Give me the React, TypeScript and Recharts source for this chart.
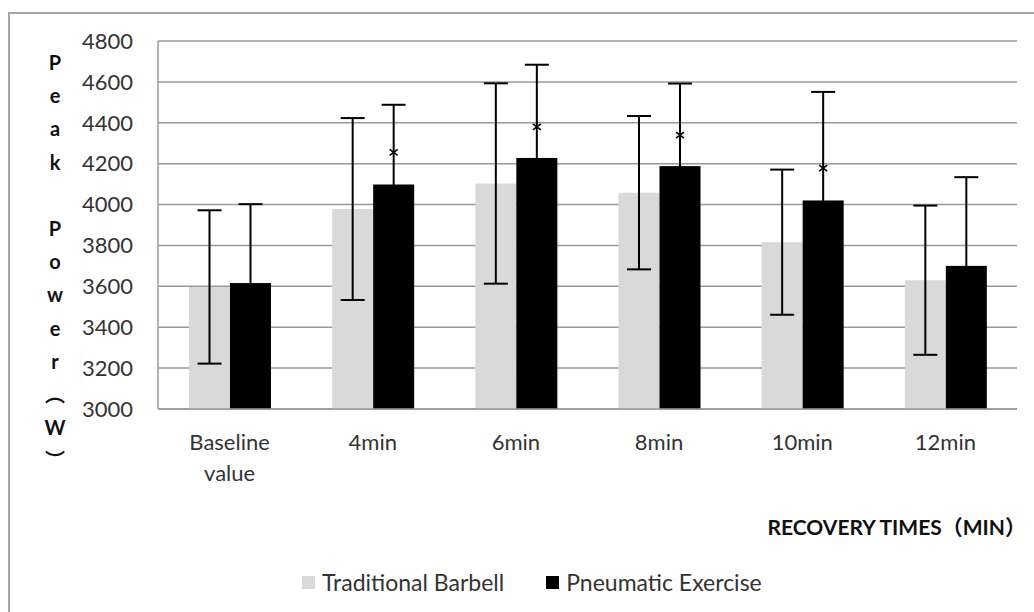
import React from 'react';
import { BarChart, Bar, XAxis, YAxis, CartesianGrid, ErrorBar, Legend } from 'recharts';

const categories = ['Baseline value', '4min', '6min', '8min', '10min', '12min'];
const seriesNames = ['Traditional Barbell', 'Pneumatic Exercise'];
const traditional = [3597, 3978, 4103, 4058, 3816, 3630];
const traditionalSd = [375, 445, 490, 375, 355, 365];
const pneumatic = [3616, 4098, 4228, 4188, 4020, 3700];
const pneumaticSd = [386, 390, 456, 404, 531, 434];
const significance: (number | null)[] = [null, 4255, 4380, 4340, 4178, null];
const yTicks = [3000, 3200, 3400, 3600, 3800, 4000, 4200, 4400, 4600, 4800];
const yDomain: [number, number] = [3000, 4800];
const yTitleChars = ['P', 'e', 'a', 'k', ' ', 'P', 'o', 'w', 'e', 'r', '\uFE35', 'W', '\uFE36'];
const xTitle = 'RECOVERY TIMES（MIN）';

const data = categories.map((c, i) => ({
  name: c,
  traditional: traditional[i],
  traditionalSd: traditionalSd[i],
  pneumatic: pneumatic[i],
  pneumaticSd: pneumaticSd[i],
  sig: significance[i],
}));

const FONT = "Lato, 'Noto Sans CJK SC', sans-serif";
const TEXT = '#333333';

const XTick = (props: any) => {
  const { x, y, payload } = props;
  const lines = String(payload.value).split(' ');
  return (
    <g>
      {lines.map((l: string, i: number) => (
        <text key={i} x={x} y={y + 20 + i * 31} textAnchor="middle" fill={TEXT} fontSize={22} fontFamily={FONT}>
          {l}
        </text>
      ))}
    </g>
  );
};

const PneumaticShape = (props: any) => {
  const { x, y, width, height, payload, fill } = props;
  const v = payload.pneumatic;
  const a = payload.sig;
  let mark = null;
  if (a != null && height > 0) {
    const py = y + height - ((a - yDomain[0]) * height) / (v - yDomain[0]);
    const cx = x + width / 2;
    mark = (
      <g stroke="#000" strokeWidth={1.6}>
        <line x1={cx - 4} y1={py - 3} x2={cx + 4} y2={py + 3} />
        <line x1={cx - 4} y1={py + 3} x2={cx + 4} y2={py - 3} />
      </g>
    );
  }
  return (
    <g>
      <rect x={x} y={y} width={width} height={height} fill={fill} />
      {mark}
    </g>
  );
};

const YTitle = () => {
  return (
    <g>
      {yTitleChars.map((ch, i) => (
        <text key={i} x={55} y={70 + i * 33.2} textAnchor="middle" fill="#111" fontSize={20} fontWeight="bold" fontFamily={FONT}>
          {ch}
        </text>
      ))}
    </g>
  );
};

const XTitle = (props: any) => {
  const vb = props.viewBox || { x: 158, y: 409, width: 859 };
  return (
    <text x={vb.x + vb.width + 9} y={vb.y + 126} textAnchor="end" fill="#111" fontSize={21} fontWeight="bold" fontFamily={FONT}>
      {xTitle}
    </text>
  );
};

const LegendContent = (props: any) => {
  const payload = [...(props.payload || [])].sort(
    (a: any, b: any) => seriesNames.indexOf(a.value) - seriesNames.indexOf(b.value)
  );
  return (
    <div style={{ height: 24, display: 'flex', alignItems: 'center', paddingLeft: 302, fontFamily: FONT, fontSize: 23, color: TEXT }}>
      {payload.map((p: any, i: number) => (
        <div key={i} style={{ display: 'flex', alignItems: 'center', marginRight: 42 }}>
          <div style={{ width: 13, height: 13, background: p.color, marginRight: 7 }} />
          <span>{p.value}</span>
        </div>
      ))}
    </div>
  );
};

export default function App() {
  return (
    <div style={{ position: 'absolute', left: 0, top: 0, width: 1034, height: 612, overflow: 'hidden', background: '#fff' }}>
      <div style={{ position: 'absolute', left: 8, top: 12, width: 1200, height: 800, border: '2px solid #a6a6a6' }} />
      <div style={{ position: 'absolute', left: 0, top: 0 }}>
        <BarChart
          width={1034}
          height={612}
          data={data}
          margin={{ top: 41, right: 17, left: 0, bottom: 18 }}
          barGap={0}
          barSize={41}
        >
          <CartesianGrid horizontal vertical={false} stroke="#9a9a9a" strokeWidth={1.5} />
          <XAxis
            dataKey="name"
            height={161}
            tickLine={false}
            axisLine={{ stroke: '#9a9a9a', strokeWidth: 1.5 }}
            tick={<XTick />}
            tickSize={0}
            tickMargin={21}
            interval={0}
            label={{ content: <XTitle /> }}
          />
          <YAxis
            width={158}
            domain={yDomain}
            ticks={yTicks}
            tickLine={false}
            tickSize={0}
            tickMargin={25}
            axisLine={{ stroke: '#9a9a9a', strokeWidth: 1.5 }}
            tick={{ fill: TEXT, fontSize: 22, fontFamily: FONT }}
            label={{ content: <YTitle /> }}
            interval={0}
          />
          <Legend verticalAlign="bottom" content={<LegendContent />} />
          <Bar dataKey="traditional" name={seriesNames[0]} fill="#d9d9d9" isAnimationActive={false}>
            <ErrorBar dataKey="traditionalSd" width={12} stroke="#000" strokeWidth={2} />
          </Bar>
          <Bar dataKey="pneumatic" name={seriesNames[1]} fill="#000000" isAnimationActive={false} shape={<PneumaticShape />}>
            <ErrorBar dataKey="pneumaticSd" width={12} stroke="#000" strokeWidth={2} />
          </Bar>
        </BarChart>
      </div>
    </div>
  );
}
